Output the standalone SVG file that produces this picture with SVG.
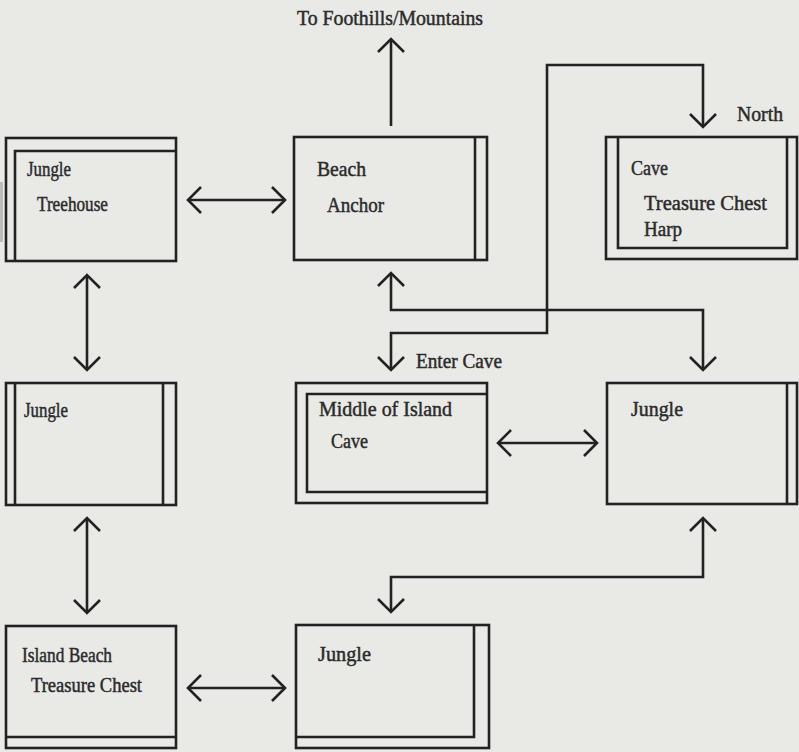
<svg xmlns="http://www.w3.org/2000/svg" width="799" height="752" viewBox="0 0 799 752">
  <defs>
    <marker id="chev" viewBox="-16 -16 20 32" markerWidth="20" markerHeight="32" refX="0" refY="0" orient="auto-start-reverse" markerUnits="userSpaceOnUse">
      <path d="M-13,-13 L0,0 L-13,13" fill="none" stroke="#222" stroke-width="2.6" stroke-linejoin="miter"/>
    </marker>
    <style>
      .bg { fill: #e9e9e6; }
      .box { fill: none; stroke: #222; stroke-width: 2.6; }
      .edge { fill: none; stroke: #222; stroke-width: 2.6; marker-start: url(#chev); marker-end: url(#chev); }
      .edge1 { fill: none; stroke: #222; stroke-width: 2.6; marker-end: url(#chev); }
      text { font-family: "Liberation Serif", "DejaVu Serif", serif; font-size: 20px; fill: #2b2b2b; stroke: #2b2b2b; stroke-width: 0.45; }
    </style>
  </defs>

  <rect class="bg" x="0" y="0" width="799" height="752"/>
  <!-- binding shadow along the left margin -->
  <rect x="0" y="182" width="3" height="60" fill="#bdbdba"/>

  <!-- connectors -->
  <g id="connectors">
    <path class="edge" d="M188,200 H285"/>
    <path class="edge1" d="M391,126 V39"/>
    <path class="edge" d="M391,370 V333 H547 V65 H703 V127"/>
    <path class="edge" d="M391,273 V310 H703 V370"/>
    <path class="edge" d="M498,443 H597"/>
    <path class="edge" d="M703,518 V577 H391 V612"/>
    <path class="edge" d="M87,275 V370"/>
    <path class="edge" d="M87,518 V613"/>
    <path class="edge" d="M188,688 H285"/>
  </g>

  <!-- free labels -->
  <g id="labels">
    <text x="297" y="25" textLength="186" lengthAdjust="spacingAndGlyphs">To Foothills/Mountains</text>
    <text x="737" y="121" textLength="46" lengthAdjust="spacingAndGlyphs">North</text>
    <text x="416" y="368" textLength="86" lengthAdjust="spacingAndGlyphs">Enter Cave</text>
  </g>

  <g id="jungle-treehouse">
    <rect class="box" x="6" y="138" width="170" height="123"/>
    <path class="box" d="M15,261 V151 H176"/>
    <text x="27" y="176" textLength="44" lengthAdjust="spacingAndGlyphs">Jungle</text>
    <text x="37" y="211" textLength="71" lengthAdjust="spacingAndGlyphs">Treehouse</text>
  </g>

  <g id="beach">
    <rect class="box" x="294" y="137" width="193" height="123"/>
    <path class="box" d="M475,137 V260"/>
    <text x="317" y="176" textLength="49" lengthAdjust="spacingAndGlyphs">Beach</text>
    <text x="327" y="212" textLength="57" lengthAdjust="spacingAndGlyphs">Anchor</text>
  </g>

  <g id="cave-north">
    <rect class="box" x="606" y="137" width="191" height="122"/>
    <path class="box" d="M618,137 V248 H787 V137"/>
    <text x="631" y="175" textLength="37" lengthAdjust="spacingAndGlyphs">Cave</text>
    <text x="644" y="210" textLength="123" lengthAdjust="spacingAndGlyphs">Treasure Chest</text>
    <text x="644" y="236" textLength="38" lengthAdjust="spacingAndGlyphs">Harp</text>
  </g>

  <g id="jungle-west">
    <rect class="box" x="6" y="383" width="170" height="122"/>
    <path class="box" d="M15,383 V505 M163,383 V505"/>
    <text x="24" y="417" textLength="44" lengthAdjust="spacingAndGlyphs">Jungle</text>
  </g>

  <g id="middle-of-island">
    <rect class="box" x="296" y="383" width="191" height="120"/>
    <path class="box" d="M487,394 H307 V492 H487"/>
    <text x="319" y="416" textLength="133" lengthAdjust="spacingAndGlyphs">Middle of Island</text>
    <text x="331" y="448" textLength="37" lengthAdjust="spacingAndGlyphs">Cave</text>
  </g>

  <g id="jungle-east">
    <rect class="box" x="607" y="383" width="190" height="121"/>
    <path class="box" d="M787,383 V504"/>
    <text x="631" y="416" textLength="52" lengthAdjust="spacingAndGlyphs">Jungle</text>
  </g>

  <g id="island-beach">
    <rect class="box" x="6" y="626" width="170" height="122"/>
    <path class="box" d="M6,737 H176"/>
    <text x="22" y="662" textLength="90" lengthAdjust="spacingAndGlyphs">Island Beach</text>
    <text x="31" y="692" textLength="111" lengthAdjust="spacingAndGlyphs">Treasure Chest</text>
  </g>

  <g id="jungle-south">
    <rect class="box" x="296" y="625" width="193" height="123"/>
    <path class="box" d="M474,625 V737 H296"/>
    <text x="318" y="661" textLength="53" lengthAdjust="spacingAndGlyphs">Jungle</text>
  </g>
</svg>
